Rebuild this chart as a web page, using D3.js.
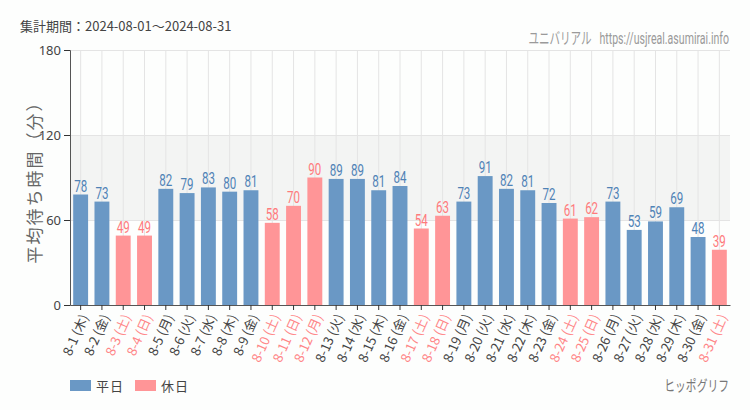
<!DOCTYPE html>
<html><head><meta charset="utf-8">
<script src="https://cdn.jsdelivr.net/npm/d3@7"></script>
<style>
html,body{margin:0;padding:0;background:#fdfefd;}
svg{display:block;}
</style></head>
<body>
<svg id="chart" width="750" height="410"></svg>
<script>
const dates = ["8-1","8-2","8-3","8-4","8-5","8-6","8-7","8-8","8-9","8-10","8-11","8-12","8-13","8-14","8-15","8-16","8-17","8-18","8-19","8-20","8-21","8-22","8-23","8-24","8-25","8-26","8-27","8-28","8-29","8-30","8-31"];
const weekdays = ["木","金","土","日","月","火","水","木","金","土","日","月","火","水","木","金","土","日","月","火","水","木","金","土","日","月","火","水","木","金","土"];
const waitTimes = [78,73,49,49,82,79,83,80,81,58,70,90,89,89,81,84,54,63,73,91,82,81,72,61,62,73,53,59,69,48,39];
const isHoliday = [0,0,1,1,0,0,0,0,0,1,1,1,0,0,0,0,1,1,0,0,0,0,0,1,1,0,0,0,0,0,1];
const yTicks = [0,60,120,180];
const legendLabels = ["平日","休日"];

const svg = d3.select("#chart");
const colors = {weekday:"#6a98c5", holiday:"#ff9597"};
const labelColors = {weekday:"#4f82b6", holiday:"#ff7a7c"};
const jp = "'Noto Sans CJK JP','Noto Sans',sans-serif";
const cond = "Roboto,'Noto Sans CJK JP',sans-serif";

const cats = dates.map((d,i)=>d+" ("+weekdays[i]+")");
const x = d3.scaleBand().domain(cats).range([70,730]).paddingInner(0.3).paddingOuter(0.15);
const y = d3.scaleLinear().domain([0,180]).range([305,50]);

function condText(g, tx, ty, sx, txt){
  return g.append("text").attr("transform",`translate(${tx},${ty}) scale(${sx},1)`).style("white-space","pre").text(txt);
}

// band 60-120
svg.append("rect").attr("x",70).attr("width",660).attr("y",y(120)).attr("height",y(60)-y(120)).attr("fill","#f3f4f3");

// vertical grid
svg.append("g").selectAll("line").data(cats).join("line")
  .attr("x1",d=>x(d)+x.bandwidth()/2).attr("x2",d=>x(d)+x.bandwidth()/2)
  .attr("y1",50).attr("y2",305).attr("stroke","#e4e4e4").attr("stroke-width",1);
// horizontal grid
svg.append("g").selectAll("line").data(yTicks.filter(t=>t>0)).join("line")
  .attr("x1",70).attr("x2",730).attr("y1",d=>y(d)+0.5).attr("y2",d=>y(d)+0.5)
  .attr("stroke","#e4e4e4");

// bars
svg.append("g").selectAll("rect").data(waitTimes).join("rect")
  .attr("x",(d,i)=>x(cats[i])).attr("width",x.bandwidth())
  .attr("y",d=>y(d)).attr("height",d=>y(0)-y(d))
  .attr("fill",(d,i)=>isHoliday[i]?colors.holiday:colors.weekday);

// value labels
svg.append("g").selectAll("text").data(waitTimes).join("text")
  .attr("transform",(d,i)=>`translate(${x(cats[i])+x.bandwidth()/2},${y(d)-3}) scale(0.68,1)`)
  .attr("text-anchor","middle")
  .attr("font-family",cond).attr("font-size",17)
  .attr("fill",(d,i)=>isHoliday[i]?labelColors.holiday:labelColors.weekday)
  .text(d=>d);

// y axis
const yAxis = svg.append("g").attr("transform","translate(70,0)")
  .call(d3.axisLeft(y).tickValues(yTicks).tickSize(6).tickPadding(3));
yAxis.select(".domain").attr("stroke","#555");
yAxis.selectAll(".tick line").attr("stroke","#333");
yAxis.selectAll("text").attr("font-family","'Noto Sans',sans-serif").attr("font-size",13).attr("fill","#444");

// x axis
const xAxis = svg.append("g").attr("transform","translate(0,305)")
  .call(d3.axisBottom(x).tickSize(5).tickSizeOuter(0));
xAxis.select(".domain").attr("stroke","#555");
xAxis.selectAll(".tick line").attr("stroke","#333");
xAxis.selectAll(".tick text")
  .attr("font-family",jp).attr("font-size",13)
  .attr("fill",(d,i)=>isHoliday[i]?"#ff8587":"#444")
  .attr("text-anchor","end").attr("dy","0.35em")
  .attr("transform","translate(4,10) rotate(-66)")
  .attr("x",0).attr("y",0);

// title
svg.append("text").attr("x",20).attr("y",31).attr("font-family",jp).attr("font-size",13).attr("fill","#444")
  .text("集計期間：2024-08-01～2024-08-31");
// watermark
condText(svg,729,44,0.66,"ユニバリアル   https://usjreal.asumirai.info")
  .attr("text-anchor","end").attr("font-family",cond).attr("font-size",16).attr("fill","#9a9a9a");
// y title
svg.append("text").attr("transform","translate(33,178) rotate(-90)").attr("text-anchor","middle")
  .attr("dominant-baseline","central")
  .attr("font-family",jp).attr("font-size",17).attr("letter-spacing",2).attr("fill","#666").text("平均待ち時間（分）");

// legend
const lg = svg.append("g");
const legendX = [70,135];
legendLabels.forEach((l,i)=>{
  lg.append("rect").attr("x",legendX[i]).attr("y",380).attr("width",21).attr("height",11).attr("fill",i?colors.holiday:colors.weekday);
  lg.append("text").attr("x",legendX[i]+26).attr("y",391).attr("font-family",jp).attr("font-size",13).attr("letter-spacing",1).attr("fill","#444").text(l);
});
condText(svg,729,391,0.72,"ヒッポグリフ")
  .attr("text-anchor","end").attr("font-family",cond).attr("font-size",15).attr("fill","#777");
</script>
</body></html>
